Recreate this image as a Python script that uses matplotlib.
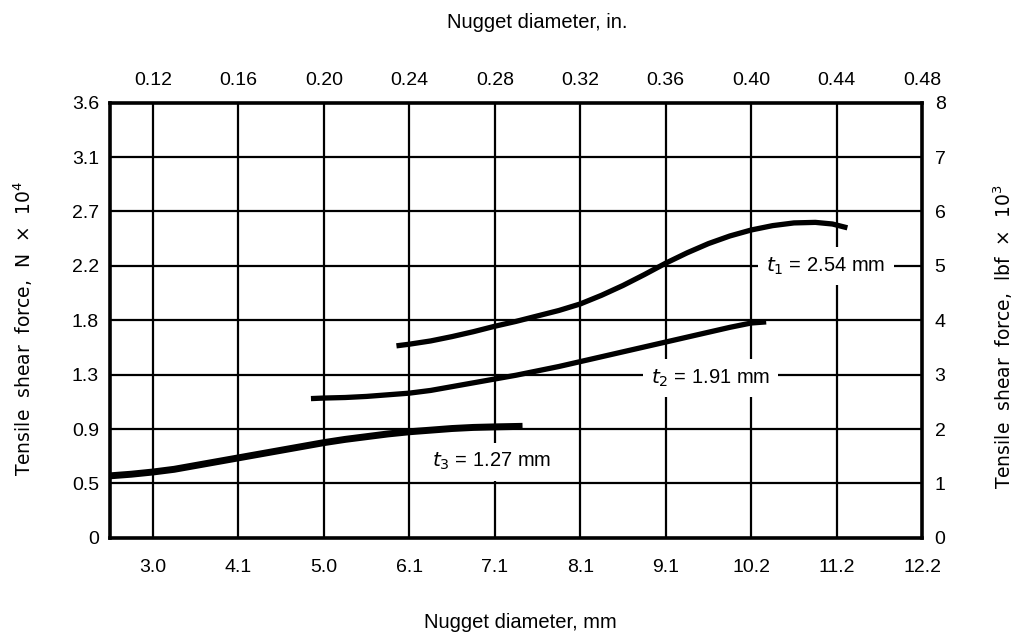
import matplotlib
matplotlib.use("Agg")
import matplotlib.pyplot as plt

plt.rcParams['font.family'] = ['Liberation Sans', 'DejaVu Sans']

# Axis ticks (positions in inches / lbf x 10^3)
in_ticks = [0.12, 0.16, 0.20, 0.24, 0.28, 0.32, 0.36, 0.40, 0.44, 0.48]
in_labels = ['0.12', '0.16', '0.20', '0.24', '0.28', '0.32', '0.36', '0.40', '0.44', '0.48']
mm_labels = ['3.0', '4.1', '5.0', '6.1', '7.1', '8.1', '9.1', '10.2', '11.2', '12.2']
lbf_ticks = [0, 1, 2, 3, 4, 5, 6, 7, 8]
lbf_labels = ['0', '1', '2', '3', '4', '5', '6', '7', '8']
N_labels = ['0', '0.5', '0.9', '1.3', '1.8', '2.2', '2.7', '3.1', '3.6']

# Curves (nugget diameter in inches, force in lbf x 10^3)
t1_x = [0.234, 0.24, 0.25, 0.26, 0.27, 0.28, 0.29, 0.30, 0.31, 0.32, 0.33, 0.34, 0.35,
        0.36, 0.37, 0.38, 0.39, 0.40, 0.41, 0.42, 0.43, 0.438, 0.445]
t1_y = [3.53, 3.56, 3.62, 3.70, 3.79, 3.89, 3.98, 4.08, 4.18, 4.30, 4.46, 4.64, 4.84,
        5.05, 5.24, 5.41, 5.55, 5.66, 5.74, 5.79, 5.80, 5.77, 5.70]
t2_x = [0.194, 0.20, 0.21, 0.22, 0.23, 0.24, 0.25, 0.26, 0.27, 0.28, 0.29, 0.30, 0.31,
        0.32, 0.33, 0.34, 0.35, 0.36, 0.37, 0.38, 0.39, 0.40, 0.407]
t2_y = [2.56, 2.57, 2.58, 2.60, 2.63, 2.66, 2.71, 2.78, 2.85, 2.92, 2.99, 3.07, 3.15,
        3.24, 3.33, 3.42, 3.51, 3.60, 3.69, 3.78, 3.87, 3.95, 3.97]
t3_x = [0.10, 0.11, 0.12, 0.13, 0.14, 0.15, 0.16, 0.17, 0.18, 0.19, 0.20, 0.21, 0.22,
        0.23, 0.24, 0.25, 0.26, 0.27, 0.28, 0.293]
t3_y = [1.14, 1.17, 1.21, 1.26, 1.33, 1.40, 1.47, 1.54, 1.61, 1.68, 1.75, 1.81, 1.86,
        1.91, 1.95, 1.98, 2.01, 2.03, 2.04, 2.05]

fig = plt.figure(figsize=(10.19, 6.38), dpi=100)
ax = fig.add_axes([0.108, 0.157, 0.797, 0.682])
ax.set_xlim(0.10, 0.48)
ax.set_ylim(0, 8)

# grid
for x in in_ticks[:-1]:
    ax.axvline(x, color='black', lw=1.6, zorder=1)
for y in lbf_ticks[1:-1]:
    ax.axhline(y, color='black', lw=1.6, zorder=1)

for s in ax.spines.values():
    s.set_linewidth(2.6)

ax.plot(t1_x, t1_y, color='black', lw=3.8, solid_capstyle='butt', zorder=3)
ax.plot(t2_x, t2_y, color='black', lw=3.8, solid_capstyle='butt', zorder=3)
ax.plot(t3_x, t3_y, color='black', lw=5.0, solid_capstyle='butt', zorder=3)

bbox = dict(facecolor='white', edgecolor='none', pad=6)
ax.text(0.435, 5.0, r'$t_1$ = 2.54 mm', fontsize=14.5, ha='center', va='center', bbox=bbox, zorder=4)
ax.text(0.381, 2.94, r'$t_2$ = 1.91 mm', fontsize=14.5, ha='center', va='center', bbox=bbox, zorder=4)
ax.text(0.2785, 1.40, r'$t_3$ = 1.27 mm', fontsize=14.5, ha='center', va='center', bbox=bbox, zorder=4)

ax.set_xticks(in_ticks)
ax.set_xticklabels(mm_labels)
ax.set_yticks(lbf_ticks)
ax.set_yticklabels(N_labels)
ax.tick_params(axis='x', length=0, pad=15, labelsize=14)
ax.tick_params(axis='y', length=0, pad=8, labelsize=14)

axt = ax.twiny()
axt.set_xlim(ax.get_xlim())
axt.set_xticks(in_ticks)
axt.set_xticklabels(in_labels)
axt.tick_params(axis='x', length=0, pad=10, labelsize=14)

axr = ax.twinx()
axr.set_ylim(ax.get_ylim())
axr.set_yticks(lbf_ticks)
axr.set_yticklabels(lbf_labels)
axr.tick_params(axis='y', length=0, pad=9, labelsize=14)
for a in (axt, axr):
    for s in a.spines.values():
        s.set_visible(False)

fig.text(537 / 1019, 1 - 22 / 638, 'Nugget diameter, in.', fontsize=14.5, ha='center', va='center')
fig.text(520 / 1019, 1 - 622 / 638, 'Nugget diameter, mm', fontsize=14.5, ha='center', va='center')
fig.text(23 / 1019, 1 - 328 / 638, r'Tensile  shear  force,  N  $\times$  10$^4$', fontsize=13.5,
         family=['DejaVu Sans'], rotation=90, ha='center', va='center')
fig.text(1003 / 1019, 1 - 337 / 638, r'Tensile  shear  force,  lbf  $\times$  10$^3$', fontsize=13.5,
         family=['DejaVu Sans'], rotation=90, ha='center', va='center')

fig.savefig('out.png', dpi=100)
